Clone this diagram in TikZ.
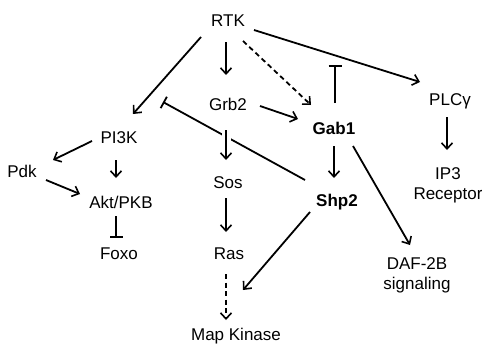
\documentclass[tikz,border=0pt]{standalone}
\usepackage{fontspec}
\setmainfont{Liberation Sans}
\usetikzlibrary{arrows.meta}
\begin{document}
\begin{tikzpicture}[x=1pt,y=-1pt,
  lbl/.style={font=\fontsize{17}{20}\selectfont, inner sep=3pt, align=center},
  bold/.style={lbl, font=\fontsize{17}{20}\selectfont\bfseries},
  act/.style={line width=1.8pt, -{Straight Barb[length=6pt,width=11pt,line width=1.6pt]}},
  inh/.style={line width=1.8pt, -{Bar[width=13pt,line width=1.8pt]}},
  dashline/.style={dash pattern=on 5pt off 3.5pt},
  gapped/.style={preaction={draw=white, line width=9pt, -}}]
\useasboundingbox (0,0) rectangle (482,348);
% nodes
\node[lbl]  (rtk)  at (228,21)  {RTK};
\node[lbl]  (grb2) at (228,104) {Grb2};
\node[bold] (gab1) at (334,128) {Gab1};
\node[lbl]  (plc)  at (450,101) {PLCγ};
\node[lbl]  (ip3)  at (448,185) {IP3\\Receptor};
\node[lbl]  (pi3k) at (119,138) {PI3K};
\node[lbl]  (pdk)  at (22,171)  {Pdk};
\node[lbl]  (akt)  at (121,202) {Akt/PKB};
\node[lbl]  (foxo) at (119,254) {Foxo};
\node[lbl]  (sos)  at (228,183) {Sos};
\node[lbl]  (ras)  at (229,254) {Ras};
\node[bold] (shp2) at (337,202) {Shp2};
\node[lbl]  (daf)  at (417,275) {DAF-2B\\signaling};
\node[lbl]  (mapk) at (236,336) {Map Kinase};
% free ends of the inhibition bars
\coordinate (gabT) at (335,65);
\coordinate (shpT) at (163,102);
% connectors
\draw[inh] ([shift={(-32,-22)}]shp2.center) -- (shpT);
\draw[act] ([shift={(-27,16)}]rtk.center) -- ([shift={(14,-24)}]pi3k.center);
\draw[act] ([shift={(-2,21)}]rtk.center) -- ([shift={(-2,-29)}]grb2.center);
\draw[act, dashline] ([shift={(15,20)}]rtk.center) -- ([shift={(-23,-23)}]gab1.center);
\draw[act] ([shift={(26,9)}]rtk.center) -- ([shift={(-30,-19)}]plc.center);
\draw[act] ([shift={(32,2)}]grb2.center) -- ([shift={(-36,-9)}]gab1.center);
\draw[inh] ([shift={(1,-25)}]gab1.center) -- (gabT);
\draw[act, gapped] ([shift={(-2,26)}]grb2.center) -- ([shift={(-2,-23)}]sos.center);
\draw[act] ([shift={(-27,3)}]pi3k.center) -- ([shift={(31,-11)}]pdk.center);
\draw[act] ([shift={(-3,22)}]pi3k.center) -- ([shift={(-5,-24)}]akt.center);
\draw[act] ([shift={(24,9)}]pdk.center) -- ([shift={(-41,-8)}]akt.center);
\draw[inh] ([shift={(-5,14)}]akt.center) -- ([shift={(-3,-16)}]foxo.center);
\draw[act] ([shift={(-2,15)}]sos.center) -- ([shift={(-3,-22)}]ras.center);
\draw[act, dashline] ([shift={(-3,20)}]ras.center) -- ([shift={(-10,-16)}]mapk.center);
\draw[act] ([shift={(-27,10)}]shp2.center) -- ([shift={(7,-46)}]mapk.center);
\draw[act] ([shift={(0,18)}]gab1.center) -- ([shift={(-3,-24)}]shp2.center);
\draw[act] ([shift={(19,18)}]gab1.center) -- ([shift={(-7,-30)}]daf.center);
\draw[act] ([shift={(-3,16)}]plc.center) -- ([shift={(-1,-35)}]ip3.center);
\end{tikzpicture}
\end{document}
